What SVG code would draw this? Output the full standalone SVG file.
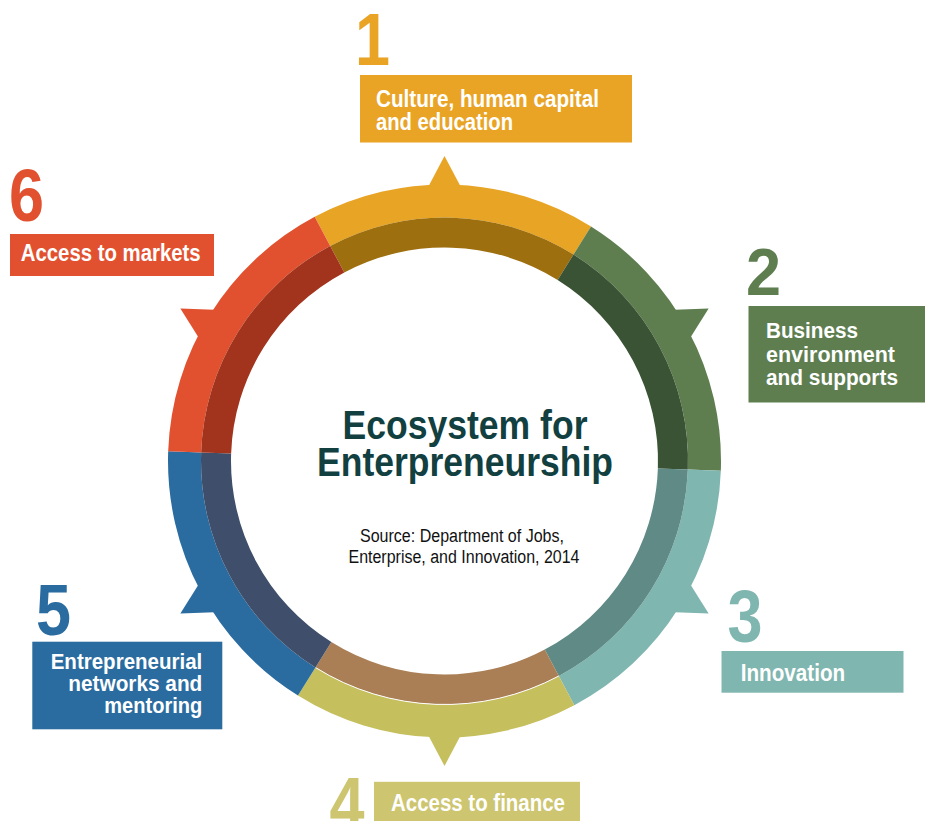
<svg xmlns="http://www.w3.org/2000/svg" width="925" height="821" viewBox="0 0 925 821">
<style>
.lbl{font-family:"Liberation Sans Narrow","Liberation Sans",Arial,sans-serif;font-weight:bold;fill:#ffffff;}
.num{font-family:"Liberation Sans Narrow","Liberation Sans",Arial,sans-serif;font-weight:bold;}
.title{font-family:"Liberation Sans Narrow","Liberation Sans",Arial,sans-serif;font-weight:bold;fill:#123f3f;font-size:40px;}
.src{font-family:"Liberation Sans Narrow","Liberation Sans",Arial,sans-serif;fill:#111111;font-size:18px;}
</style>
<defs>
<polygon id="ptr" points="0,-305 -19,-269 19,-269"/>
</defs>
<rect width="925" height="821" fill="#ffffff"/>
<g id="ring" transform="translate(444.5,461)">
  <g id="seg1">
    <use href="#ptr" fill="#e8a425"/>
    <path d="M-129.81,-244.14 A276.5,276.5 0 0 1 146.52,-234.49 L129.04,-206.50 A243.5,243.5 0 0 0 -114.31,-215.00 Z" fill="#e8a425"/>
    <path d="M-114.31,-215.00 A243.5,243.5 0 0 1 129.04,-206.50 L113.14,-181.06 A213.5,213.5 0 0 0 -100.23,-188.51 Z" fill="#9d6f0e"/>
  </g>
  <g id="seg2">
    <use href="#ptr" fill="#5e7e50" transform="rotate(60)"/>
    <path d="M146.52,-234.49 A276.5,276.5 0 0 1 276.33,9.65 L243.35,8.50 A243.5,243.5 0 0 0 129.04,-206.50 Z" fill="#5e7e50"/>
    <path d="M129.04,-206.50 A243.5,243.5 0 0 1 243.35,8.50 L213.37,7.45 A213.5,213.5 0 0 0 113.14,-181.06 Z" fill="#3a5335"/>
  </g>
  <g id="seg3">
    <use href="#ptr" fill="#80b6b0" transform="rotate(120)"/>
    <path d="M276.33,9.65 A276.5,276.5 0 0 1 129.81,244.14 L114.31,215.00 A243.5,243.5 0 0 0 243.35,8.50 Z" fill="#80b6b0"/>
    <path d="M243.35,8.50 A243.5,243.5 0 0 1 114.31,215.00 L100.23,188.51 A213.5,213.5 0 0 0 213.37,7.45 Z" fill="#5f8a85"/>
  </g>
  <g id="seg4">
    <use href="#ptr" fill="#c6bf5e" transform="rotate(180)"/>
    <path d="M129.81,244.14 A276.5,276.5 0 0 1 -146.52,234.49 L-129.04,206.50 A243.5,243.5 0 0 0 114.31,215.00 Z" fill="#c6bf5e"/>
    <path d="M114.31,215.00 A243.5,243.5 0 0 1 -129.04,206.50 L-113.14,181.06 A213.5,213.5 0 0 0 100.23,188.51 Z" fill="#ab7f55"/>
    <path d="M114.31,215.00 A243.5,243.5 0 0 1 -129.04,206.50" fill="none" stroke="#ffffff" stroke-width="1"/>
  </g>
  <g id="seg5">
    <use href="#ptr" fill="#2a6ca0" transform="rotate(240)"/>
    <path d="M-146.52,234.49 A276.5,276.5 0 0 1 -276.33,-9.65 L-243.35,-8.50 A243.5,243.5 0 0 0 -129.04,206.50 Z" fill="#2a6ca0"/>
    <path d="M-129.04,206.50 A243.5,243.5 0 0 1 -243.35,-8.50 L-213.37,-7.45 A213.5,213.5 0 0 0 -113.14,181.06 Z" fill="#3f4f6b"/>
  </g>
  <g id="seg6">
    <use href="#ptr" fill="#e2512f" transform="rotate(300)"/>
    <path d="M-276.33,-9.65 A276.5,276.5 0 0 1 -129.81,-244.14 L-114.31,-215.00 A243.5,243.5 0 0 0 -243.35,-8.50 Z" fill="#e2512f"/>
    <path d="M-243.35,-8.50 A243.5,243.5 0 0 1 -114.31,-215.00 L-100.23,-188.51 A213.5,213.5 0 0 0 -213.37,-7.45 Z" fill="#a2341d"/>
  </g>
</g>
<g id="center">
  <text class="title" x="465" y="439.3" text-anchor="middle" textLength="245" lengthAdjust="spacingAndGlyphs">Ecosystem for</text>
  <text class="title" x="465" y="476" text-anchor="middle" textLength="296" lengthAdjust="spacingAndGlyphs">Enterpreneurship</text>
  <text class="src" x="462" y="541.7" text-anchor="middle" textLength="204" lengthAdjust="spacingAndGlyphs">Source: Department of Jobs,</text>
  <text class="src" x="464" y="562.7" text-anchor="middle" textLength="231" lengthAdjust="spacingAndGlyphs">Enterprise, and Innovation, 2014</text>
</g>
<g id="node1">
  <text class="num" x="355" y="65" font-size="74" fill="#e9a426" textLength="35" lengthAdjust="spacingAndGlyphs">1</text>
  <rect x="360" y="75" width="272" height="67.5" fill="#e9a426"/>
  <text class="lbl" x="376" y="107" font-size="24" textLength="223" lengthAdjust="spacingAndGlyphs">Culture, human capital</text>
  <text class="lbl" x="376" y="130" font-size="24" textLength="137" lengthAdjust="spacingAndGlyphs">and education</text>
</g>
<g id="node2">
  <text class="num" x="746" y="295" font-size="67" fill="#5e7e50" textLength="35" lengthAdjust="spacingAndGlyphs">2</text>
  <rect x="748.5" y="306" width="176.5" height="96.5" fill="#5e7e50"/>
  <text class="lbl" x="766" y="338.3" font-size="22" textLength="92" lengthAdjust="spacingAndGlyphs">Business</text>
  <text class="lbl" x="766" y="361.5" font-size="22" textLength="129" lengthAdjust="spacingAndGlyphs">environment</text>
  <text class="lbl" x="766" y="384.5" font-size="22" textLength="132" lengthAdjust="spacingAndGlyphs">and supports</text>
</g>
<g id="node3">
  <text class="num" x="727.5" y="642" font-size="74" fill="#80b6b0" textLength="35" lengthAdjust="spacingAndGlyphs">3</text>
  <rect x="721.5" y="651" width="182" height="41.7" fill="#80b6b0"/>
  <text class="lbl" x="740.7" y="681" font-size="23" textLength="104.5" lengthAdjust="spacingAndGlyphs">Innovation</text>
</g>
<g id="node4">
  <text class="num" x="329.5" y="829" font-size="74" fill="#cdc570" textLength="35" lengthAdjust="spacingAndGlyphs">4</text>
  <rect x="374" y="781.8" width="206" height="40" fill="#cdc570"/>
  <text class="lbl" x="391" y="810.5" font-size="24" textLength="174" lengthAdjust="spacingAndGlyphs">Access to finance</text>
</g>
<g id="node5">
  <text class="num" x="36" y="635" font-size="72" fill="#2a6ca0" textLength="35" lengthAdjust="spacingAndGlyphs">5</text>
  <rect x="32.3" y="641.7" width="190" height="87.6" fill="#2a6ca0"/>
  <text class="lbl" x="202.3" y="669" font-size="22" text-anchor="end" textLength="151.6" lengthAdjust="spacingAndGlyphs">Entrepreneurial</text>
  <text class="lbl" x="202.3" y="690.7" font-size="22" text-anchor="end" textLength="134" lengthAdjust="spacingAndGlyphs">networks and</text>
  <text class="lbl" x="202.3" y="713" font-size="22" text-anchor="end" textLength="98" lengthAdjust="spacingAndGlyphs">mentoring</text>
</g>
<g id="node6">
  <text class="num" x="9" y="221" font-size="74" fill="#e2512f" textLength="35" lengthAdjust="spacingAndGlyphs">6</text>
  <rect x="10" y="234" width="204" height="42" fill="#e2512f"/>
  <text class="lbl" x="20.7" y="261" font-size="24" textLength="180" lengthAdjust="spacingAndGlyphs">Access to markets</text>
</g>
<g id="connectors"></g>
</svg>
